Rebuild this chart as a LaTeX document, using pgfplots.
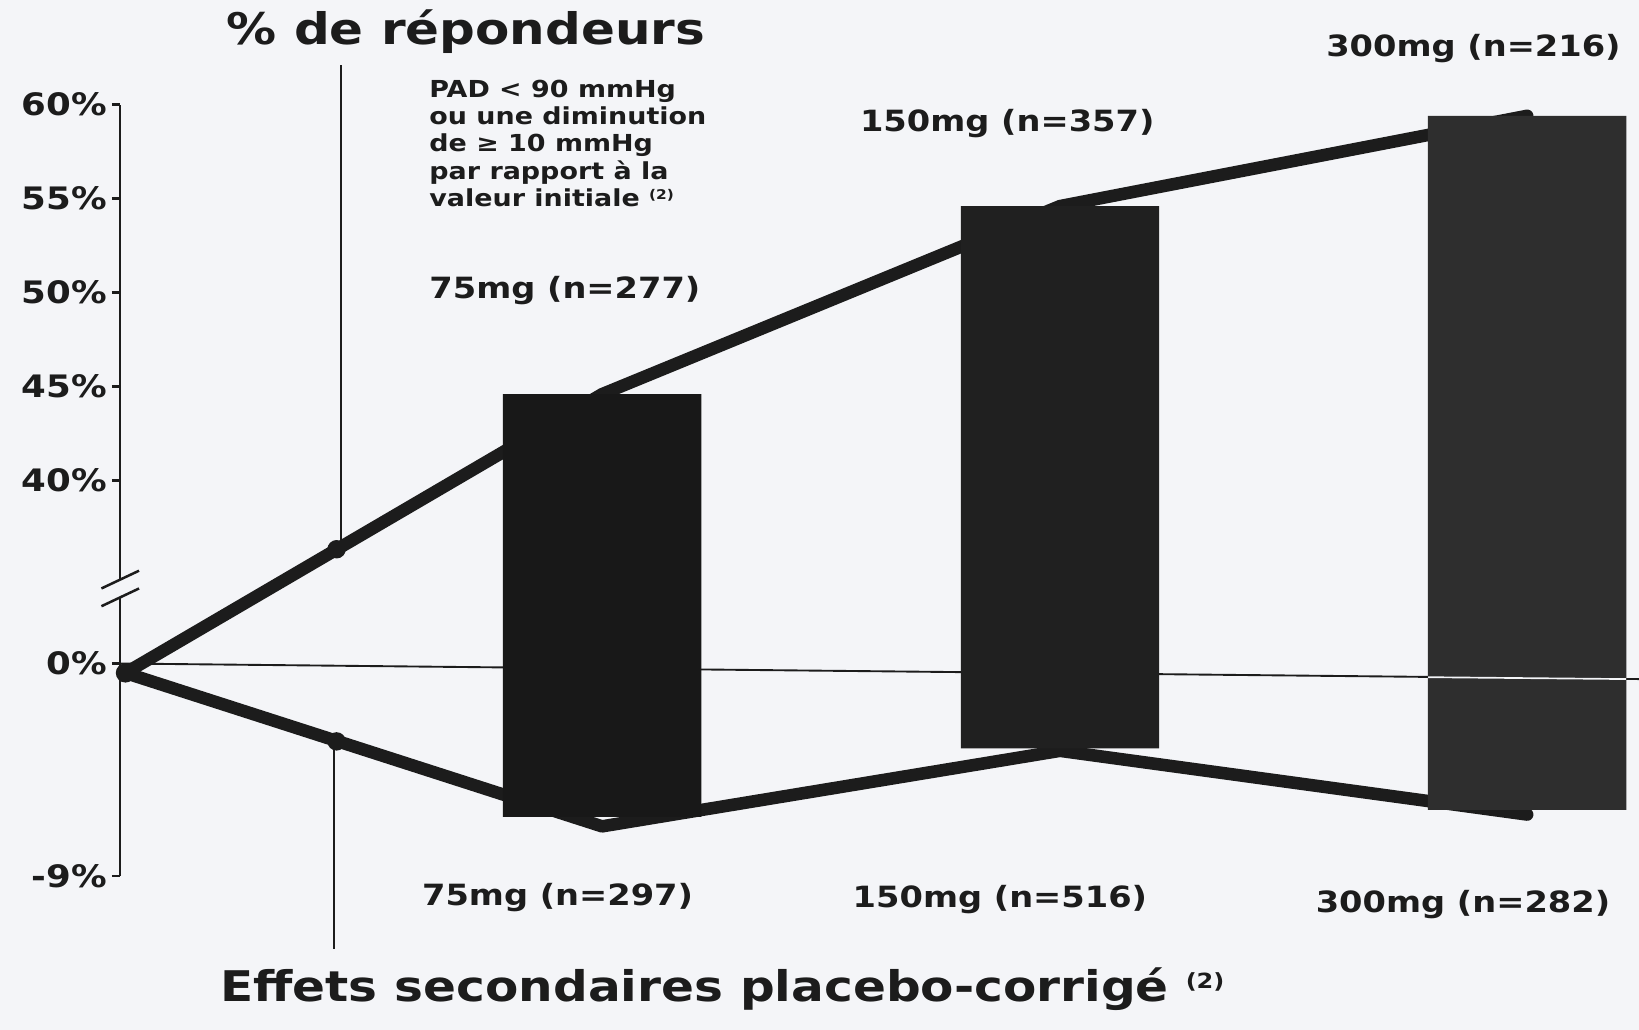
\documentclass[border=0pt]{standalone}
\usepackage{fontspec}
\setmainfont{DejaVu Sans}[FakeStretch=1.15]
\usepackage{pgfplots}
\pgfplotsset{compat=1.18}
\definecolor{paper}{RGB}{244,245,248}
\definecolor{ink}{RGB}{28,28,28}
\definecolor{bara}{RGB}{24,24,24}
\definecolor{barb}{RGB}{32,32,32}
\definecolor{barc}{RGB}{46,46,46}
\newcommand{\lab}[1]{{\fontsize{7}{8}\selectfont\bfseries #1}}
\newcommand{\note}[1]{{\fontsize{5.6}{6.7}\selectfont\bfseries #1}}
\newcommand{\refmark}[1]{\raisebox{0.55ex}{\fontsize{#1}{#1}\selectfont(2)}}

\begin{document}
\begin{tikzpicture}
\path[use as bounding box, fill=paper] (0,0) rectangle (392pt,246.25pt);
\begin{axis}[
  at={(28.75pt,36.75pt)}, anchor=south west,
  scale only axis, width=363.25pt, height=184.5pt,
  xmin=-0.0418, xmax=3.2418, ymin=-9, ymax=60, clip=false,
  % broken scale: 0..40% squeezed, above 40% 18px per %, below 0 22.6px per %
  y coord trafo/.code={\pgfmathparse{ifthenelse(#1<0,1.255*#1,ifthenelse(#1<40,0.243*#1,#1-30.28))}},
  y coord inv trafo/.code={\pgfmathparse{ifthenelse(#1<0,#1/1.255,ifthenelse(#1<9.72,#1/0.243,#1+30.28))}},
  axis x line=none, axis y line*=left,
  y axis line style={line width=0.6pt, ink, -},
  xtick=\empty,
  ytick={-9,0,40,45,50,55,60},
  yticklabels={-9\%,0\%,40\%,45\%,50\%,55\%,60\%},
  tick align=outside, major tick length=2pt,
  every tick/.style={ink, line width=0.6pt},
  yticklabel style={font=\fontsize{7.4}{8}\selectfont\bfseries, text=ink, inner sep=1pt},
]
% zero reference line (slightly skewed in the scan)
\addplot[ink, line width=0.45pt] coordinates {(-0.0418,0) (3.2418,-0.66)};
% responders (top) and side effects (bottom)
\addplot[ink, line width=3pt, line join=round, line cap=round] coordinates {(-0.0305,-0.4) (1,44.6) (1.99,54.6) (3,59.4)};
\addplot[ink, line width=3pt, line join=round, line cap=round] coordinates {(-0.0305,-0.4) (1,-6.9) (1.99,-3.7) (3,-6.4)};
% dose bars: responders above 0, side effects below
\addplot[ybar, bar width=0.429, bar shift=0pt, fill=bara, draw=none] coordinates {(1,44.6) (1,-6.5)};
\addplot[ybar, bar width=0.429, bar shift=0pt, fill=barb, draw=none] coordinates {(1.99,54.6) (1.99,-3.6)};
\addplot[ybar, bar width=0.429, bar shift=0pt, fill=barc, draw=none] coordinates {(3,59.4) (3,-6.2)};
\addplot[paper, line width=0.4pt] coordinates {(2.786,-0.58) (3.214,-0.66)};
% pointer line with its two dots
\addplot[ink, line width=0.5pt] coordinates {(0.435,62.1) (0.435,25)};
\addplot[ink, line width=0.5pt] coordinates {(0.42,-3.3) (0.42,-12.1)};
\addplot[only marks, mark=*, mark size=2pt, ink] coordinates {(0.426,25) (0.426,-3.3)};
\addplot[only marks, mark=*, mark size=2.1pt, ink] coordinates {(-0.0305,-0.4)};
\end{axis}
\begin{scope}[x=0.25pt,y=0.25pt]
% axis break
\fill[paper] (109,414) rectangle (122,430);
\draw[ink, line width=0.6pt] (97,422) -- (133,439);
\draw[ink, line width=0.6pt] (97,405) -- (133,422);
\node[anchor=base west, inner sep=0pt, text=ink] at (216,942) {\fontsize{10.4}{12}\selectfont\bfseries \% de répondeurs};
\node[anchor=base west, inner sep=0pt, text=ink] at (410,892) {\note{PAD < 90 mmHg}};
\node[anchor=base west, inner sep=0pt, text=ink] at (410,866) {\note{ou une diminution}};
\node[anchor=base west, inner sep=0pt, text=ink] at (410,840) {\note{de ≥ 10 mmHg}};
\node[anchor=base west, inner sep=0pt, text=ink] at (410,813) {\note{par rapport à la}};
\node[anchor=base west, inner sep=0pt, text=ink] at (410,787) {\note{valeur initiale \refmark{3.2}}};
\node[anchor=base west, inner sep=0pt, text=ink] at (410,699) {\lab{75mg (n=277)}};
\node[anchor=base west, inner sep=0pt, text=ink] at (822,859) {\lab{150mg (n=357)}};
\node[anchor=base west, inner sep=0pt, text=ink] at (1268,931) {\lab{300mg (n=216)}};
\node[anchor=base west, inner sep=0pt, text=ink] at (403,119) {\lab{75mg (n=297)}};
\node[anchor=base west, inner sep=0pt, text=ink] at (815,117) {\lab{150mg (n=516)}};
\node[anchor=base west, inner sep=0pt, text=ink] at (1258,112) {\lab{300mg (n=282)}};
\node[anchor=base west, inner sep=0pt, text=ink] at (210,27) {\fontsize{10.1}{11}\selectfont\bfseries Effets secondaires placebo-corrigé \refmark{5}};
\end{scope}
\end{tikzpicture}
\end{document}
